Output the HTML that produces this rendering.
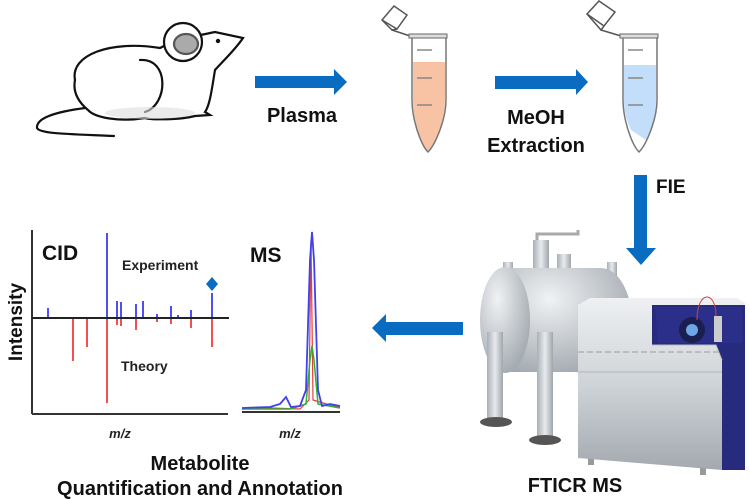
<!DOCTYPE html>
<html><head><style>
body{margin:0;background:#fff;}
svg{display:block;font-family:"Liberation Sans",Arial,sans-serif;}
</style></head><body>
<svg width="750" height="499" viewBox="0 0 750 499" xmlns="http://www.w3.org/2000/svg">
<defs>
<linearGradient id="met" x1="0" y1="0" x2="0" y2="1"><stop offset="0" stop-color="#eef0f2"/><stop offset="0.5" stop-color="#cfd4d8"/><stop offset="1" stop-color="#a3a9af"/></linearGradient>
<linearGradient id="met2" x1="0" y1="0" x2="1" y2="0"><stop offset="0" stop-color="#a9afb5"/><stop offset="0.5" stop-color="#e8ebee"/><stop offset="1" stop-color="#a0a6ac"/></linearGradient>
<radialGradient id="tank" cx="0.35" cy="0.3" r="0.75"><stop offset="0" stop-color="#f0f2f4"/><stop offset="1" stop-color="#a2a9b0"/></radialGradient>
</defs>
<!-- mouse -->
<g fill="#fff" stroke="#111" stroke-width="2.2" stroke-linecap="round">
<path d="M85,108 C55,112 36,118 37,128 C40,134 70,134 114,136" fill="none"/>
<path d="M75,80 C70,55 110,40 160,48 C175,40 200,35 215,32 L243,38 C235,50 222,62 215,70 C212,88 210,105 205,112 L210,115 L195,116 C180,120 150,120 145,118 C120,122 95,118 88,110 C76,100 73,90 75,80 Z"/>
<path d="M140,60 C170,58 168,105 145,112" fill="none"/>
<circle cx="183" cy="42" r="19"/>
<ellipse cx="186" cy="44" rx="12" ry="10" fill="#aaa" stroke="#555"/>
</g>
<circle cx="218" cy="41" r="2.2" fill="#111"/>
<ellipse cx="150" cy="113" rx="45" ry="6" fill="#ddd" opacity="0.6"/>
<!-- arrow 1 -->
<path d="M255,76 H334 V69 L347,82 L334,95 V88 H255 Z" fill="#0a6cc0"/>
<text x="302" y="122" font-size="20" font-weight="bold" text-anchor="middle" fill="#111">Plasma</text>
<!-- tube 1 -->
<g transform="translate(380,0)">
<path d="M2,20 L14,6 L27,15 L17,29 Z M2,20 L12,30 L17,29" fill="#fff" stroke="#555" stroke-width="1.5"/>
<path d="M12,30 L30,36" stroke="#555" stroke-width="1.5"/>
<path d="M33,62 H65 V100 C65,120 55,145 48,151 C41,145 33,120 33,100 Z" fill="#f8c3a5"/>
<path d="M32,36 H66 V100 C66,120 55,145 48,152 C41,145 32,120 32,100 Z" fill="none" stroke="#777" stroke-width="1.5"/>
<rect x="29" y="34" width="38" height="4" fill="#ddd" stroke="#666"/>
<path d="M37,50H52M37,78H52M37,105H52" stroke="#888" stroke-width="1.5"/>
</g>
<!-- arrow 2 -->
<path d="M495,76 H576 V69 L588,82 L576,95 V89 H495 Z" fill="#0a6cc0"/>
<text x="536" y="124" font-size="20" font-weight="bold" text-anchor="middle" fill="#111">MeOH</text>
<text x="536" y="152" font-size="20" font-weight="bold" text-anchor="middle" fill="#111">Extraction</text>
<!-- tube 2 -->
<g transform="translate(591,0)">
<path d="M-4,14 L8,1 L24,12 L13,26 Z M-4,14 L10,30 L13,26" fill="#fff" stroke="#555" stroke-width="1.5"/>
<path d="M10,30 L30,36" stroke="#555" stroke-width="1.5"/>
<path d="M33,65 H65 V100 C65,120 58,135 55,140 L40,130 C35,120 33,110 33,100 Z" fill="#c3defa"/>
<path d="M32,36 H66 V100 C66,120 55,145 48,152 C41,145 32,120 32,100 Z" fill="none" stroke="#777" stroke-width="1.5"/>
<rect x="29" y="34" width="38" height="4" fill="#ddd" stroke="#666"/>
<path d="M37,50H52M37,78H52M37,105H52" stroke="#888" stroke-width="1.5"/>
</g>
<!-- FIE arrow -->
<path d="M634,175 H647 V248 H656 L641,265 L626,248 H634 Z" fill="#0a6cc0"/>
<text x="656" y="193" font-size="19" font-weight="bold" fill="#111">FIE</text>
<!-- instrument -->
<g>
<rect x="503" y="262" width="10" height="16" fill="url(#met2)"/>
<rect x="533" y="240" width="16" height="36" fill="url(#met2)"/>
<path d="M537,240 V234 H578 V230" stroke="#aaa" stroke-width="3" fill="none"/>
<rect x="557" y="254" width="14" height="24" fill="url(#met2)"/>
<rect x="607" y="262" width="10" height="14" fill="url(#met2)"/>
<path d="M505,268 H600 C622,268 632,300 632,320 C632,350 620,372 600,372 H505 Z" fill="url(#tank)"/>
<ellipse cx="505" cy="320" rx="25" ry="53" fill="url(#tank)"/>
<rect x="487" y="332" width="16" height="88" fill="url(#met2)"/>
<rect x="537" y="332" width="16" height="104" fill="url(#met2)"/>
<ellipse cx="496" cy="422" rx="16" ry="5" fill="#555"/>
<ellipse cx="545" cy="440" rx="16" ry="5" fill="#555"/>
<rect x="588" y="455" width="6" height="10" fill="#999"/>
<rect x="700" y="465" width="6" height="10" fill="#999"/>
<path d="M578,305 L590,298 H737 L745,303 V470 H722 L578,458 Z" fill="url(#met)"/>
<path d="M578,352 H722" stroke="#999" stroke-dasharray="6 3"/>
<path d="M578,372 H722" stroke="#b0b5ba"/>
<path d="M652,305 H745 V470 H722 V360 L716,345 H652 Z" fill="#262b7e"/>
<path d="M655,307 H742 V343 H658 Z" fill="#2c2f8a"/>
<path d="M652,345 H716 L722,360" fill="none" stroke="#bbb"/>
<circle cx="692" cy="330" r="13" fill="#1a1f50"/>
<circle cx="692" cy="330" r="6" fill="#6fa7e6"/>
<rect x="714" y="316" width="8" height="26" fill="#ccc"/>
<path d="M697,320 C697,290 716,290 716,316" stroke="#c44" fill="none"/>
</g>
<text x="575" y="492" font-size="20" font-weight="bold" text-anchor="middle" fill="#111">FTICR MS</text>
<!-- left arrow -->
<path d="M463,322 H386 V314 L372,328 L386,342 V335 H463 Z" fill="#0a6cc0"/>
<!-- CID plot -->
<g stroke-width="2">
<line x1="32" y1="230" x2="32" y2="414" stroke="#333"/>
<line x1="32" y1="414" x2="228" y2="414" stroke="#333"/>
<g stroke="#f05050">
<line x1="73" y1="318" x2="73" y2="361"/><line x1="87" y1="318" x2="87" y2="347"/>
<line x1="107" y1="318" x2="107" y2="403"/><line x1="117" y1="318" x2="117" y2="325"/>
<line x1="121" y1="318" x2="121" y2="326"/><line x1="136" y1="318" x2="136" y2="330"/>
<line x1="157" y1="318" x2="157" y2="322"/><line x1="171" y1="318" x2="171" y2="324"/>
<line x1="191" y1="318" x2="191" y2="328"/><line x1="212" y1="318" x2="212" y2="347"/>
</g>
<g stroke="#5050f0">
<line x1="48" y1="318" x2="48" y2="308"/><line x1="107" y1="318" x2="107" y2="233"/>
<line x1="117" y1="318" x2="117" y2="301"/><line x1="121" y1="318" x2="121" y2="302"/>
<line x1="136" y1="318" x2="136" y2="304"/><line x1="143" y1="318" x2="143" y2="301"/>
<line x1="157" y1="318" x2="157" y2="314"/><line x1="171" y1="318" x2="171" y2="306"/>
<line x1="178" y1="318" x2="178" y2="315"/><line x1="191" y1="318" x2="191" y2="310"/>
<line x1="212" y1="318" x2="212" y2="293"/>
</g>
<line x1="32" y1="318" x2="229" y2="318" stroke="#222" stroke-width="2"/>
</g>
<path d="M212,277 L218,284 L212,291 L206,284 Z" fill="#0a6cc0"/>
<text x="42" y="260" font-size="21" font-weight="bold" fill="#111">CID</text>
<text x="122" y="270" font-size="14" font-weight="bold" fill="#222">Experiment</text>
<text x="121" y="371" font-size="14" font-weight="bold" fill="#222">Theory</text>
<text transform="translate(22,322) rotate(-90)" font-size="19" font-weight="bold" text-anchor="middle" fill="#111">Intensity</text>
<text x="120" y="438" font-size="13" font-style="italic" font-weight="bold" text-anchor="middle" fill="#222">m/z</text>
<!-- MS plot -->
<line x1="242" y1="412" x2="340" y2="412" stroke="#333" stroke-width="2"/>
<path d="M242,409 L270,408 L300,409 L309,400 L311,240 L313,400 L330,405 L340,407" fill="none" stroke="#e04040" stroke-width="1.2"/>
<path d="M242,409 L290,409 L306,404 L310,360 L312,346 L314,360 L318,404 L340,408" fill="none" stroke="#30b030" stroke-width="1.5"/>
<path d="M242,408 L270,407 L280,404 L286,397 L291,407 L300,406 L306,390 L310,260 L312,232 L314,260 L318,390 L322,406 L330,404 L340,406" fill="none" stroke="#4040ee" stroke-width="1.8"/>
<text x="250" y="262" font-size="21" font-weight="bold" fill="#111">MS</text>
<text x="290" y="438" font-size="13" font-style="italic" font-weight="bold" text-anchor="middle" fill="#222">m/z</text>
<text x="200" y="470" font-size="20" font-weight="bold" text-anchor="middle" fill="#111">Metabolite</text>
<text x="200" y="495" font-size="20" font-weight="bold" text-anchor="middle" fill="#111">Quantification and Annotation</text>
</svg>
</body></html>
